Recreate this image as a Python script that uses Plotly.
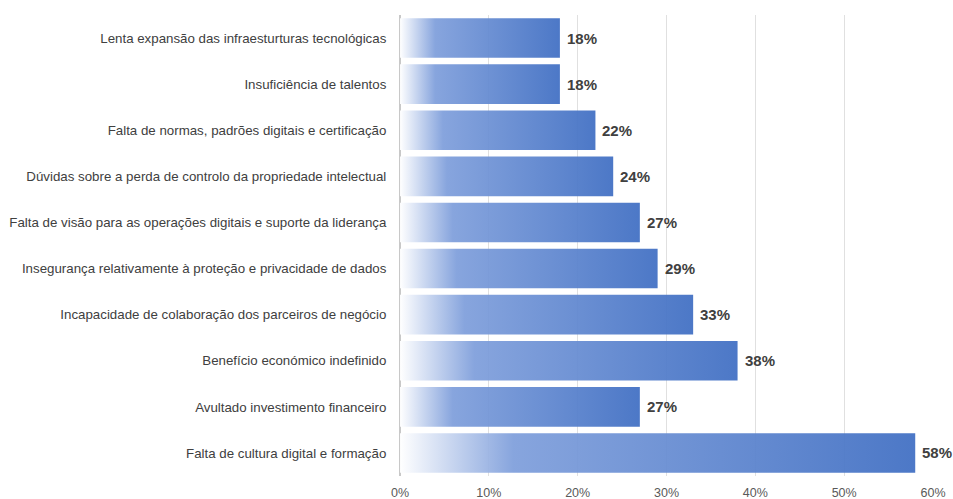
import plotly.graph_objects as go

categories = [
    "Lenta expansão das infraesturturas tecnológicas",
    "Insuficiência de talentos",
    "Falta de normas, padrões digitais e certificação",
    "Dúvidas sobre a perda de controlo da propriedade intelectual",
    "Falta de visão para as operações digitais e suporte da liderança",
    "Insegurança relativamente à proteção e privacidade de dados",
    "Incapacidade de colaboração dos parceiros de negócio",
    "Benefício económico indefinido",
    "Avultado investimento financeiro",
    "Falta de cultura digital e formação",
]
values = [18, 18, 22, 24, 27, 29, 33, 38, 27, 58]
value_labels = [f"{v}%" for v in values]
x_ticks = [0, 10, 20, 30, 40, 50, 60]
x_tick_labels = [f"{t}%" for t in x_ticks]

n = len(categories)
half = 0.43
grad = [[0, "rgba(255,255,255,0.95)"], [0.22, "rgba(126,158,219,0.93)"], [1, "rgba(67,113,196,0.95)"]]

fig = go.Figure()
for i, (cat, v) in enumerate(zip(categories, values)):
    y = n - 1 - i
    fig.add_trace(go.Scatter(
        x=[0, v, v, 0, 0],
        y=[y - half, y - half, y + half, y + half, y - half],
        fill="toself",
        mode="lines",
        line=dict(width=0, color="rgba(0,0,0,0)"),
        fillgradient=dict(type="horizontal", colorscale=grad),
        hoverinfo="skip",
        showlegend=False,
    ))
    fig.add_annotation(
        x=v, y=y, text=f"<b>{value_labels[i]}</b>", showarrow=False,
        xanchor="left", xshift=5,
        font=dict(family="Liberation Sans, Arial", size=15, color="#404040"),
    )

fig.update_layout(
    template="none",
    width=953, height=499,
    margin=dict(l=400, r=20, t=15, b=23, pad=0),
    paper_bgcolor="white", plot_bgcolor="white",
    font=dict(family="Liberation Sans, Arial", color="#404040"),
    xaxis=dict(
        range=[0, 60], tickvals=x_ticks, ticktext=x_tick_labels,
        showgrid=True, gridcolor="#e0e0e0", gridwidth=1,
        zeroline=True, zerolinecolor="#c8c8c8", zerolinewidth=1.5,
        tickfont=dict(size=12.5, color="#595959"),
        showline=False, fixedrange=True, automargin=False,
        ticks="", ticklabelstandoff=7,
    ),
    yaxis=dict(
        range=[-0.5, n - 0.5],
        tickvals=list(range(n - 1, -1, -1)), ticktext=categories,
        showgrid=False, zeroline=False, showline=False,
        ticks="outside", ticklen=10, tickcolor="rgba(0,0,0,0)",
        tickfont=dict(size=13.3, color="#404040"), automargin=False,
    ),
)

fig.write_html("out.html")
